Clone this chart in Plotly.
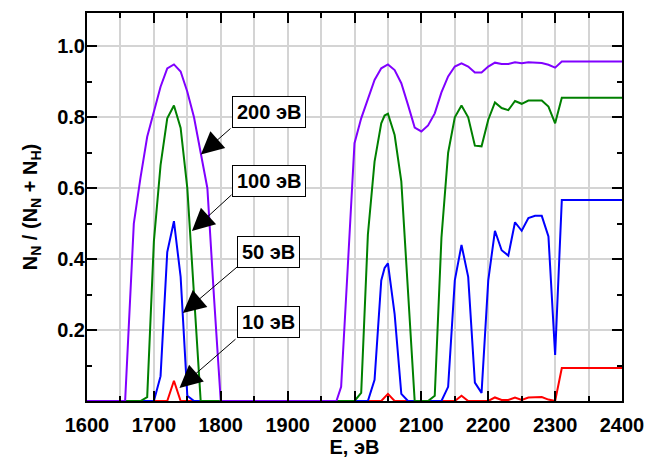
import plotly.graph_objects as go

# ---- data ----
E200 = [1600, 1657, 1670, 1680, 1690, 1700, 1710, 1720, 1730, 1740, 1750, 1760, 1770, 1780, 1790, 1800,
        1973, 1980, 1990, 2000, 2010, 2020, 2030, 2040, 2050, 2060, 2070, 2080, 2090, 2100,
        2110, 2120, 2130, 2140, 2150, 2160, 2170, 2180, 2190, 2200, 2210, 2220, 2230, 2240, 2250,
        2260, 2270, 2280, 2290, 2300, 2310, 2400]
N200 = [0, 0, 0.50, 0.63, 0.745, 0.816, 0.886, 0.938, 0.949, 0.929, 0.872, 0.80, 0.694, 0.60, 0.29, 0,
        0, 0.04, 0.38, 0.727, 0.797, 0.854, 0.905, 0.938, 0.949, 0.933, 0.896, 0.835, 0.771, 0.76,
        0.777, 0.811, 0.87, 0.915, 0.943, 0.952, 0.943, 0.926, 0.926, 0.943, 0.954, 0.95, 0.95, 0.955, 0.952,
        0.955, 0.955, 0.953, 0.948, 0.94, 0.957, 0.957]

E100 = [1600, 1680, 1690, 1700, 1710, 1720, 1730, 1740, 1750, 1760, 1770,
        2000, 2010, 2020, 2030, 2040, 2045, 2050, 2060, 2070, 2080, 2090,
        2110, 2120, 2130, 2140, 2150, 2160, 2170, 2180, 2190, 2200, 2210, 2220, 2230, 2240, 2250,
        2260, 2270, 2280, 2290, 2300, 2310, 2400]
N100 = [0, 0, 0.011, 0.45, 0.665, 0.797, 0.833, 0.77, 0.60, 0.30, 0,
        0, 0.023, 0.469, 0.675, 0.783, 0.805, 0.81, 0.75, 0.619, 0.30, 0,
        0, 0.015, 0.46, 0.70, 0.80, 0.833, 0.80, 0.72, 0.718, 0.793, 0.842, 0.826, 0.82, 0.846, 0.838,
        0.847, 0.847, 0.847, 0.83, 0.783, 0.855, 0.855]

E50 = [1600, 1700, 1710, 1720, 1730, 1740, 1750, 1760,
       2020, 2030, 2040, 2045, 2050, 2060, 2070, 2080,
       2130, 2140, 2150, 2160, 2170, 2180, 2190, 2200, 2210, 2220, 2230, 2240, 2250,
       2260, 2270, 2280, 2290, 2300, 2310, 2400]
N50 = [0, 0, 0.07, 0.42, 0.507, 0.35, 0.015, 0,
       0, 0.06, 0.34, 0.375, 0.388, 0.245, 0.02, 0,
       0, 0.04, 0.34, 0.44, 0.35, 0.052, 0.023, 0.34, 0.48, 0.425, 0.41, 0.504, 0.48,
       0.516, 0.522, 0.522, 0.464, 0.13, 0.567, 0.567]

E10 = [1600, 1720, 1730, 1740, 2040, 2050, 2060, 2150, 2160, 2170,
       2200, 2210, 2220, 2230, 2240, 2250, 2260, 2270, 2280, 2290, 2300, 2310, 2400]
N10 = [0, 0, 0.057, 0, 0, 0.02, 0, 0, 0.015, 0,
       0, 0.01, 0.003, 0.003, 0.01, 0.003, 0.01, 0.011, 0.011, 0.004, 0, 0.093, 0.093]

LABELS = ["200 эВ", "100 эВ", "50 эВ", "10 эВ"]
BOX_E = [1872.2, 1872.2, 1871.6, 1871.6]
BOX_N = [0.816, 0.621, 0.421, 0.222]
TAIL_E = [1816.8, 1818.3, 1827.7, 1824.3]
TAIL_N = [0.772, 0.585, 0.383, 0.178]
HEAD_E = [1770.3, 1756.9, 1743.4, 1738.3]
HEAD_N = [0.695, 0.479, 0.248, 0.037]

XTICKS = [1600, 1700, 1800, 1900, 2000, 2100, 2200, 2300, 2400]
YTICKS = [0.2, 0.4, 0.6, 0.8, 1.0]
YTICKTEXT = ["0.2", "0.4", "0.6", "0.8", "1.0"]

FONT = "Liberation Sans, Arial, sans-serif"

fig = go.Figure()
series = [(E10, N10, "#FF0000", "10 эВ"),
          (E50, N50, "#0000FF", "50 эВ"),
          (E100, N100, "#008000", "100 эВ"),
          (E200, N200, "#8000FF", "200 эВ")]
for ex, ny, col, nm in series:
    fig.add_trace(go.Scatter(x=ex, y=ny, mode="lines", name=nm,
                             line=dict(color=col, width=2), showlegend=False))

annotations = []
for lab, bx, by, tx, ty, hx, hy in zip(LABELS, BOX_E, BOX_N, TAIL_E, TAIL_N, HEAD_E, HEAD_N):
    annotations.append(dict(x=hx, y=hy, xref="x", yref="y", ax=tx, ay=ty, axref="x", ayref="y",
                            text="", showarrow=True, arrowhead=2, arrowsize=4.5, arrowwidth=1,
                            arrowcolor="black"))
    annotations.append(dict(x=bx, y=by, xref="x", yref="y", text=lab, showarrow=False,
                            font=dict(family=FONT, size=20, color="black", weight="bold"),
                            bgcolor="white", bordercolor="black", borderwidth=1, borderpad=4,
                            height=22))

axis_common = dict(showline=True, linecolor="black", linewidth=2, mirror="ticks",
                   ticks="inside", ticklen=10, tickwidth=2, tickcolor="black",
                   showgrid=True, gridcolor="#d4d4d4", gridwidth=1.5, zeroline=False,
                   tickfont=dict(family=FONT, size=20, color="black", weight="bold"))

fig.update_layout(
    width=651, height=460, autosize=False,
    margin=dict(l=79, r=37, t=3, b=67),
    paper_bgcolor="white", plot_bgcolor="white",
    xaxis=dict(range=[1600, 2400], tickvals=XTICKS, ticklabelstandoff=5,
               minor=dict(dtick=50, ticks="inside", ticklen=5, tickwidth=2, tickcolor="black",
                          showgrid=True, gridcolor="#d4d4d4", gridwidth=1.5),
               title=dict(text="E, эВ", standoff=5,
                          font=dict(family=FONT, size=20, color="black", weight="bold")),
               **axis_common),
    yaxis=dict(range=[0, 1.094], tickvals=YTICKS, ticktext=YTICKTEXT, ticklabelstandoff=-4,
               minor=dict(dtick=0.1, ticks="inside", ticklen=5, tickwidth=2, tickcolor="black",
                          showgrid=False),
               title=dict(text="N<sub>N</sub> / (N<sub>N</sub> + N<sub>H</sub>)", standoff=14,
                          font=dict(family=FONT, size=20, color="black", weight="bold")),
               **axis_common),
    annotations=annotations,
)

fig.write_html("out.html")
